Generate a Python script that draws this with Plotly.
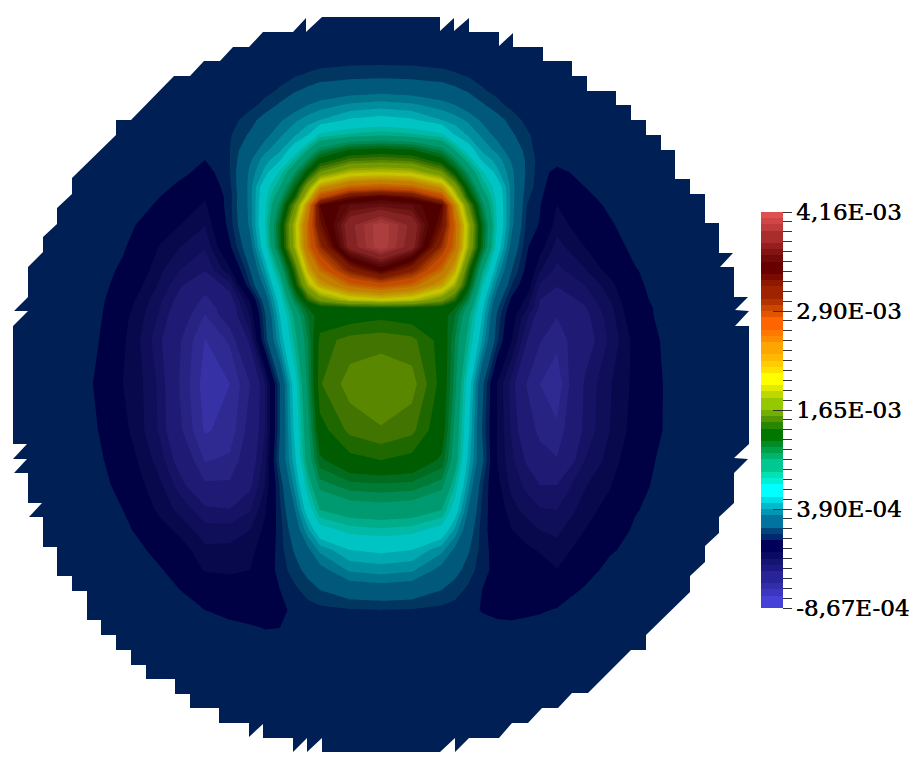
import plotly.graph_objects as go

VMIN = -0.867e-3
VMAX = 4.16e-3
N_BANDS = 64
STEP = (VMAX - VMIN) / N_BANDS
SHADE = 0.77

# colour of each of the 64 legend bands, bottom to top
band_colors = [
    (70,65,215),(70,65,215),(60,55,190),(50,45,170),(40,35,150),(40,35,150),(30,25,130),(20,20,115),
    (10,10,100),(0,0,90),(0,0,90),(0,40,110),(0,70,125),(0,115,160),(0,115,160),(0,150,180),
    (0,185,205),(0,220,230),(0,255,255),(0,255,255),(0,240,215),(0,225,180),(0,200,145),(0,200,145),
    (0,180,110),(0,160,70),(0,140,40),(0,120,0),(0,120,0),(40,135,0),(85,150,0),(115,175,0),
    (150,200,0),(150,200,0),(190,215,0),(225,235,0),(255,255,0),(255,255,0),(255,225,0),(255,205,0),
    (255,185,0),(255,165,0),(255,165,0),(255,140,0),(255,120,0),(255,100,0),(255,100,0),(225,85,0),
    (205,70,0),(180,50,0),(160,35,0),(160,35,0),(140,25,0),(125,10,0),(105,0,0),(105,0,0),
    (115,10,10),(130,20,20),(150,30,30),(170,45,45),(170,45,45),(192,60,60),(208,70,70),(224,80,80),
]

tick_labels = {0: "-8,67E-04", 10: "3,90E-04", 20: "1,65E-03", 30: "2,90E-03", 40: "4,16E-03"}

# sample positions of the field, in picture pixels
x_nodes = [13,60,93,123,143,160,180,205,230,250,265,280,295,308,320,350,381,
           412,442,455,468,482,497,512,527,540,557,585,610,635,663,700,749]
y_nodes = [16,60,75,90,105,120,135,150,160,172,187,197,205,225,247,270,285,300,308,316,340,384,
           430,460,485,510,530,550,570,590,610,628,645,752]

# field, as a position on the legend (0 = bottom band edge, 64 = top)
B = 11.5
field_rows = [
    [B]*33,
    [B]*13+[11.6,11.6,11.7,11.7]+[11.7,11.6,11.6]+[B]*13,
    [B]*11+[11.7,11.9,12.1,12.3,12.5,12.6]+[12.5,12.3,12.1,11.9,11.7]+[B]*11,
    [B]*10+[11.7,12.1,12.8,13.3,13.8,14.3,14.5]+[14.3,13.8,13.3,12.8,12.1,11.7]+[B]*10,
    [B]*9+[11.7,12.3,13.2,14.3,15,15.5,16.2,16.5]+[16.2,15.5,15,14.3,13.2,12.3,11.7]+[B]*9,
    [B]*8+[11.6,12.5,13.6,14.8,15.8,16.5,17,18.2,18.6]+[18.2,17,16.5,15.8,14.8,13.6,12.5,11.7]+[B]*8,
    [B]*8+[11.9,13.2,14.6,15.8,16.9,18,20.4,21.3,21.8]+[21.3,20.4,18,16.9,15.8,14.6,13.2,12.2]+[B]*8,
    [B]*8+[12,14.2,15.7,16.8,19,22,24.7,27.2,27.7]+[27.2,24.7,22,19,16.8,15.7,14.2,12.5]+[B]*8,
    [B]*7+[11.0,12,14.8,16.6,17.8,21.3,24.6,27.7,30.5,31]+[30.5,27.7,24.6,21.3,17.8,16.6,14.8,12.7,11.6]+[B]*7,
    [B]*7+[10.4,12,15.3,17.3,20.3,23.9,27.8,32,35.5,36]+[35.5,32,27.8,23.9,20.3,17.3,15.3,12.7,11.5,10.6]+[B]*6,
    [B]*6+[10.6,9.65,11.8,15.5,19.2,22,26.9,33.5,40,44,45]+[44,40,33.5,26.9,22,19.2,15.5,12.5,11.5,9.9,11.0]+[B]*5,
    [B]*5+[11,10.3,9.15,11.6,15.5,19.5,23.5,29,37,46,53,55]+[53,46,37,29,23.5,19.5,15.5,12.2,11.3,9.4,10.6,11.6]+[B]*4,
    [B]*4+[11.4,10.7,10,8.8,11.7,15.5,19.7,24.7,32,41,54,57,57.5]+[57,54,41,32,24.7,19.7,15.5,12,11.1,9,10.3,11.3]+[B]*4,
    [B]*4+[10.7,9.8,9,8.05,11.5,15.3,20,26.8,35.5,44,52.5,60.5,63.9]+[60.5,52.5,44,35.5,26.8,20,15.3,11.7,10.9,8.4,9.8,10.8,11.8]+[B]*3,
    [B]*3+[11.2,10,8.9,8,7.1,10.8,14.3,19.3,26.5,35,43.5,49,60,63.9]+[60,49,43.5,35,26.5,19.3,14.3,11.2,9.5,7.6,9,10.3,11.4]+[B]*3,
    [B]*2+[11.9,10.7,9.5,8.2,7,6.1,8.8,13,17,22.5,30,39,43.5,50.5,55]+[50.5,43.5,39,30,22.5,17,13,10.6,8.1,6.7,7.9,9.5,10.9,11.7]+[B]*2,
    [B]*2+[11.9,10.3,9,7.8,6.2,4.7,6.6,12,15.5,20.5,28,35,39.5,44,46]+[44,39.5,35,28,20.5,15.5,12,9.9,6.9,6.1,7,8.6,10.6,11.8]+[B]*2,
    [B]*2+[11.8,9.8,8.5,7.2,5.5,3.65,5.3,9.2,14,19,25,29.5,32.5,36,37]+[36,32.5,29.5,25,19,14,10.6,8.6,6,5.2,6.3,8,10.3,11.7]+[B]*2,
    [B]*2+[11.75,9.6,8.3,7,5.2,3.25,4.9,8.5,13.3,18.5,23.5,27,28,28.2,28.5]+[28.2,28,27,23.5,18.5,13.3,10,8.2,5.7,4.6,5.9,7.7,10.1,11.5]+[B]*2,
    [B]*2+[11.73,9.4,8.1,6.8,4.8,2.9,4.8,8,12.8,18,22.5,26,27.8,28.3,28.7]+[28.3,27.8,26,22.5,18,12.8,9.6,7.2,5.2,4.05,5.6,7.5,10,11.5]+[B]*2,
    [B]*2+[11.45,9.2,7.8,6.2,4.1,1.95,3.2,6.3,12.3,17,21.5,25,29.5,30.4,30.6]+[30.3,28.5,25,21.5,17,12.3,9,6,4.1,3.3,5.2,7.2,9.4,11.2]+[B]*2,
    [B]*2+[11,9,8,6.75,3.9,1.5,2,4,7,13,19.2,24.5,29.9,31.5,31.9]+[31.5,28.5,24.5,19.2,13.5,9,6.5,3.9,3,2.3,6.2,7.9,9.3,11]+[B]*2,
    [B]*2+[11.32,9.4,8.1,6.8,4.2,1.85,2.4,4.5,7,13,18.5,23.5,28.5,30.3,30.9]+[30.3,28,23.5,18.5,13,9,6.8,4.8,3.6,3.2,6.3,8,9.5,11.02]+[B]*2,
    [B]*2+[11.58,10,8.6,7.5,5.3,2.9,3.2,5,7.5,13.5,17.7,23,26.7,28.6,29]+[28.6,26.7,23,17.7,13.5,9,7.2,5.8,4.7,4.1,7,8.4,9.9,11.4]+[B]*2,
    [B]*2+[11.9,10.4,9.1,8.2,6.5,4.2,4.2,5.7,8,12.2,16.5,21,24.5,25.6,25.8]+[25.6,24.5,21,16.5,12.2,9.4,7.6,6.7,6,6,7.9,8.9,10.4,11.5]+[B]*2,
    [B]*3+[11,9.7,8.7,7.7,6.35,6.1,6.9,8.8,11.8,15,19,22,23,23.2]+[23,22,19,15,11.8,9.8,8.4,7.6,7.1,7,8.5,9.5,10.9]+[B]*3,
    [B]*4+[10.4,9.5,8.7,7.35,7.4,8,9.3,11.6,14,16.7,19.3,20.5,20.8]+[20.5,19.3,16.7,14,11.6,10,9,8.5,8,7.75,9,10.2,11.2]+[B]*3,
    [B]*4+[11.2,10.2,9.6,8.25,8.3,8.6,9.7,11.6,13.2,14.7,16.3,18,18.3]+[18,16.3,14.7,13.2,11.6,10.3,9.6,9.2,8.9,8.4,9.6,10.8]+[B]*4,
    [B]*5+[11.2,10,8.9,8.8,9,10,11.5,12.5,13.5,14.5,16.2,16.5]+[16.2,14.5,13.5,12.5,11.5,10.5,10,9.7,9.5,9.05,10.3]+[B]*5,
    [B]*6+[11,10,9.7,9.6,9.8,11,11.8,12.4,13,14,14.2]+[14,13,12.4,11.8,11,10.7,10.4,10.2,10.1,10.1,11.2]+[B]*5,
    [B]*7+[11,10.4,10.2,10.2,10.5,11.5,11.6,11.7,11.9,12]+[11.9,11.7,11.6,11.5,10.9,10.8,10.8,10.8,10.85,11.1]+[B]*6,
    [B]*9+[11.2,10.95,11]+[B]*5+[B]*5+[11.2,11.15,11.3]+[B]*8,
    [B]*33,
    [B]*33,
]
for i, r in enumerate(field_rows):
    assert len(r) == len(x_nodes), (i, y_nodes[i], len(r))
assert len(field_rows) == len(y_nodes)

# staircase outline of the mesh, clockwise from the upper left
edge_x = [293,306,306,322,440,440,454,454,469,469,499,499,513,513,543,543,572,572,587,587,616,616,631,631,
          646,646,661,661,675,675,690,690,705,705,719,719,733,720,734,734,748,735,749,735,749,749,734,748,734,
          734,719,719,705,705,690,690,646,646,631,588,572,558,542,528,512,499,469,455,455,440,322,322,307,307,
          293,293,263,263,249,249,219,219,190,190,175,175,146,146,131,131,116,116,101,101,87,87,72,72,57,57,
          43,43,29,42,28,28,14,27,13,27,13,13,28,14,28,28,43,43,57,57,72,72,116,116,131,174,190,204,220,233,249,263,293]
edge_y = [32,18,32,17,17,31,18,31,18,32,32,46,33,47,47,61,61,76,76,91,91,105,105,120,
          120,135,135,150,150,179,179,194,194,223,223,253,253,267,267,297,297,310,311,326,326,444,458,459,473,
          503,517,533,546,562,576,592,635,650,650,693,693,708,708,723,723,738,738,752,738,752,752,738,752,738,
          752,738,738,724,737,723,723,708,708,694,694,679,679,665,665,650,650,635,635,620,620,591,591,576,576,547,
          547,517,517,503,503,473,473,459,459,444,444,326,311,311,297,267,252,237,224,208,194,178,135,120,120,76,76,61,61,47,47,32,32]
assert len(edge_x) == len(edge_y), (len(edge_x), len(edge_y))

z = [[VMIN + v * STEP for v in row] for row in field_rows]
tick_vals = [VMIN + i * (VMAX - VMIN) / 40 for i in range(41)]
tick_vals[0] += 1e-9
tick_vals[-1] -= 1e-9
tick_text = [tick_labels.get(i, "") for i in range(41)]


def rgb(c, k=1.0):
    return "rgb(%d,%d,%d)" % tuple(round(ch * k) for ch in c)


lit_scale = [[0, rgb(band_colors[0], SHADE)]]
for i, c in enumerate(band_colors):
    lit_scale.append([(i + 0.5) / N_BANDS, rgb(c, SHADE)])
lit_scale.append([1, rgb(band_colors[-1], SHADE)])

bar_scale = []
for i, c in enumerate(band_colors):
    bar_scale.append([i / N_BANDS, rgb(c)])
    bar_scale.append([(i + 1) / N_BANDS, rgb(c)])

FIG_W, FIG_H = 911, 761
BAR_TOP, BAR_BOTTOM = 212, 608
bar_common = dict(
    thicknessmode="pixels", thickness=22, lenmode="pixels", len=BAR_BOTTOM - BAR_TOP,
    x=761 / FIG_W, xanchor="left", xpad=0, ypad=0,
    y=1 - (BAR_TOP + BAR_BOTTOM) / 2 / FIG_H, yanchor="middle",
    outlinewidth=0, borderwidth=0, tickmode="array",
)

fig = go.Figure()
fig.add_trace(go.Contour(
    x=x_nodes, y=y_nodes, z=z, colorscale=lit_scale, zmin=VMIN, zmax=VMAX, zauto=False,
    autocontour=False, contours=dict(start=VMIN, end=VMAX, size=STEP, coloring="fill", showlines=False),
    line=dict(width=0, smoothing=0), showscale=False, hoverinfo="skip",
))
mask_x = [0, 0, 911, 911, 0] + edge_x + [0]
mask_y = [0, 761, 761, 0, 0] + edge_y + [0]
fig.add_trace(go.Scatter(
    x=mask_x, y=mask_y, mode="lines", line=dict(width=0), fill="toself",
    fillcolor="white", hoverinfo="skip", showlegend=False,
))
fig.add_trace(go.Scatter(
    x=[-100], y=[-100], mode="markers", hoverinfo="skip", showlegend=False,
    marker=dict(color=[VMIN], cmin=VMIN, cmax=VMAX, colorscale=bar_scale, showscale=True,
                colorbar=dict(tickvals=tick_vals, ticktext=tick_text, ticks="outside", ticklen=9,
                              tickwidth=1, tickcolor="#333333",
                              tickfont=dict(family="DejaVu Serif", size=23, color="black",
                                            shadow="0.5px 0 0 #000"), **bar_common)),
))
fig.add_trace(go.Scatter(
    x=[-100], y=[-100], mode="markers", hoverinfo="skip", showlegend=False,
    marker=dict(color=[VMIN], cmin=VMIN, cmax=VMAX, colorscale=bar_scale, showscale=True,
                colorbar=dict(tickvals=[tick_vals[10], tick_vals[20], tick_vals[30]], ticktext=["", "", ""],
                              ticks="inside", ticklen=10, tickwidth=1, tickcolor="#333333",
                              showticklabels=False, **bar_common)),
))
fig.update_layout(
    width=FIG_W, height=FIG_H, margin=dict(l=0, r=0, t=0, b=0), autosize=False,
    paper_bgcolor="white", plot_bgcolor="white", showlegend=False,
    xaxis=dict(range=[0, FIG_W], visible=False, fixedrange=True),
    yaxis=dict(range=[FIG_H, 0], visible=False, fixedrange=True),
)
fig.write_html("out.html", config={"displayModeBar": False},
               post_script="document.body.style.margin='0';document.documentElement.style.overflow='hidden';")
